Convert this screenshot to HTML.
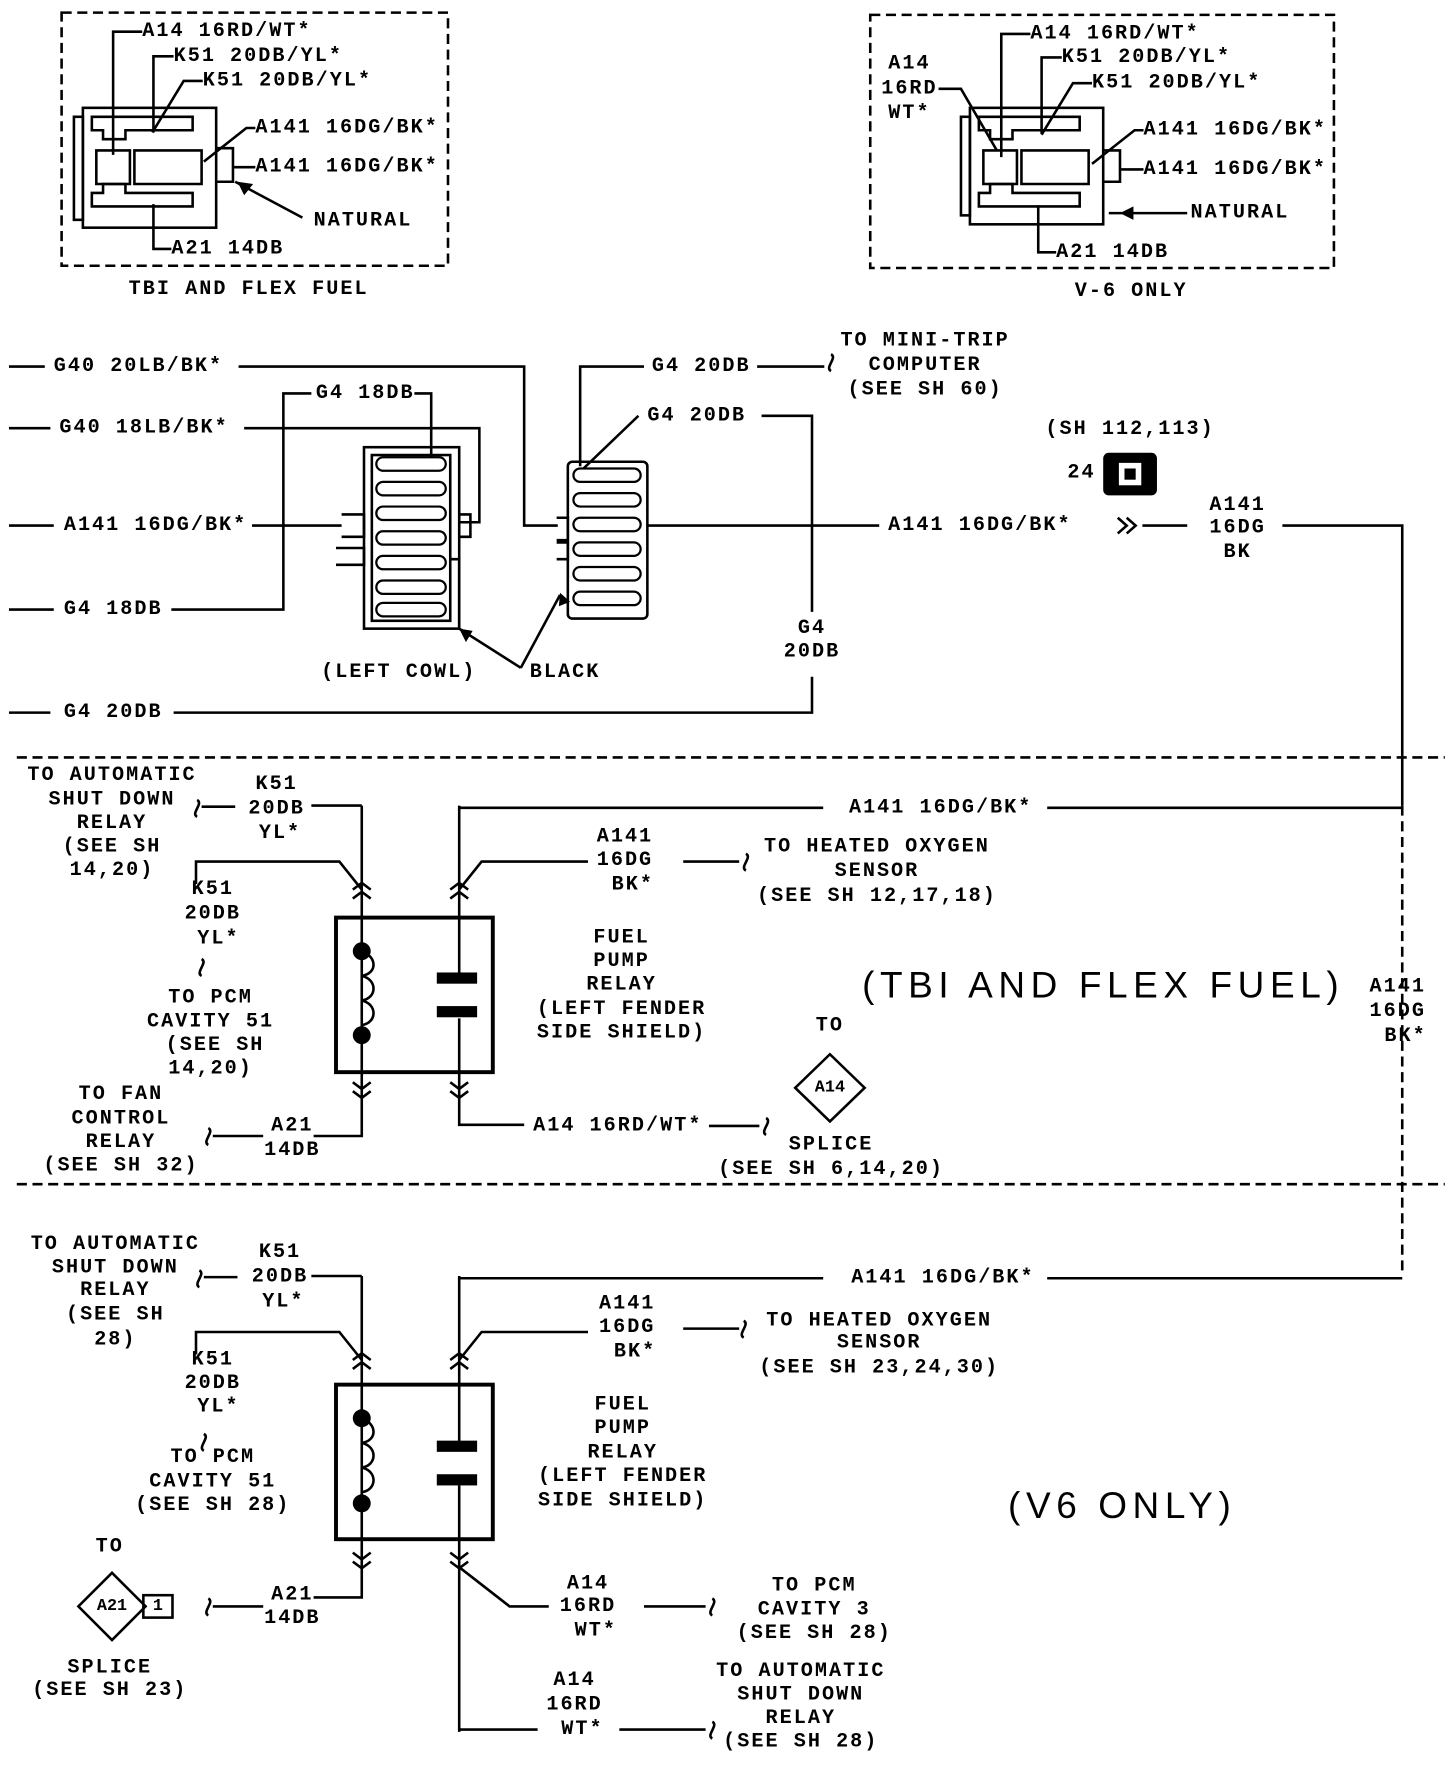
<!DOCTYPE html>
<html><head><meta charset="utf-8"><style>
html,body{margin:0;padding:0;background:#fff}
svg{display:block}
text{font-family:"Liberation Mono","DejaVu Sans Mono",monospace;font-size:18px;font-weight:bold;letter-spacing:1.8px;fill:#000;dominant-baseline:central}
.c{text-anchor:middle}
.big{font-family:"Liberation Sans",sans-serif;font-weight:normal;font-size:33px;letter-spacing:5px}
</style></head><body>
<svg width="1456" height="1768" viewBox="0 0 1300 1578" xmlns="http://www.w3.org/2000/svg">
<g transform="translate(0,4)">
<g fill="none" stroke="#000" stroke-width="2.3">
<rect x="55" y="7" width="345" height="226" stroke-dasharray="9,5"/>
<rect x="74" y="92" width="119" height="107"/>
<rect x="66" y="100" width="8" height="92"/>
<path d="M82 100h90v12h-60v8h-20v-8h-10z M82 180h90v-12h-60v-8h-20v8h-10z"/>
<path d="M86 130h30v30h-30z M120 130h60v30h-60z"/>
<path d="M193 128h15v30h-15"/>
<path d="M127 24h-26v110 M155 46h-18v68 M181 68h-17l-28 46 M228 110h-8l-38 30 M228 145h-20 M270 190l-60-32 M153 218h-16v-40"/>
<rect x="777" y="9" width="414" height="226" stroke-dasharray="9,5"/>
<rect x="866" y="92" width="119" height="104"/>
<rect x="858" y="100" width="8" height="88"/>
<path d="M874 100h90v12h-60v8h-20v-8h-10z M874 180h90v-12h-60v-8h-20v8h-10z"/>
<path d="M878 130h30v30h-30z M912 130h60v30h-60z"/>
<path d="M985 130h15v28h-15"/>
<path d="M920 26h-26v110 M948 47h-18v68 M975 70h-17l-28 46 M1021 112h-8l-38 30 M1021 147h-20 M1060 186h-70 M943 221h-16v-42 M838 75h20l32 55"/>
<path d="M8 323h32 M213 323h255v142h30 M8 378h37 M218 378h210v84h-18 M8 465h40 M225 465h80 M8 540h40 M153 540h100v-193h25 M370 347h15v63 M8 632h37 M155 632h570v-32 M725 542v-175h-45 M570 367l-50 48 M518 412v-89h57 M676 323h60 M578 465h207 M1020 465h40 M1145 465h107v250"/>
<path d="M1252 715v420" stroke-dasharray="9,5"/>
<path d="M998 458l8 7-8 7 M1006 458l8 7-8 7"/>
<rect x="325" y="395" width="85" height="162"/>
<rect x="332" y="402" width="70" height="148"/>
<path d="M305 455h20v20h-20 M300 485h25v15h-25 M410 455h10v20h-10 M402 495h8v62"/>
<rect x="507" y="408" width="71" height="140" rx="4"/>
<path d="M497 458h10v20h-10 M497 480h10v15h-10"/>
<g stroke-width="1.8">
<path d="M342 410h50 M342 432h50 M342 454h50 M342 476h50 M342 498h50 M342 520h50 M342 540h50" stroke-width="14" stroke="#000" stroke-linecap="round"/>
<path d="M342 410h50 M342 432h50 M342 454h50 M342 476h50 M342 498h50 M342 520h50 M342 540h50" stroke-width="10" stroke="#fff" stroke-linecap="round"/>
<path d="M518 420h48 M518 442h48 M518 464h48 M518 486h48 M518 508h48 M518 530h48" stroke-width="14" stroke="#000" stroke-linecap="round"/>
<path d="M518 420h48 M518 442h48 M518 464h48 M518 486h48 M518 508h48 M518 530h48" stroke-width="10" stroke="#fff" stroke-linecap="round"/>
</g>
<path d="M465 592l-55-35 M465 592l35-65"/>
<path d="M15 672h1275 M15 1053h1275" stroke-dasharray="9,5"/>
<rect x="300" y="815" width="140" height="138" stroke-width="3.5"/>
<path d="M323 715v240 M410 715v150 M410 905v50 M410 717h325 M935 717h317 M278 715h45 M180 716h30 M323 790l-20-25h-128v20 M410 790l20-25h95 M610 765h50 M323 953v57h-43 M190 1010h45 M410 953v47h58 M633 1001h45"/>
<path d="M323 845c14 5 14 20 0 22c14 3 14 20 0 22c14 3 14 20 0 22"/>
<rect x="300" y="1232" width="140" height="138" stroke-width="3.5"/>
<path d="M323 1135v240 M410 1135v150 M410 1322v220 M410 1137h325 M935 1137h317 M278 1135h45 M182 1136h30 M323 1210l-20-25h-128v20 M410 1210l20-25h95 M610 1182h50 M323 1372v50h-43 M190 1430h45 M410 1395l45 35h35 M575 1430h55 M410 1540h70 M553 1540h77"/>
<path d="M323 1262c14 5 14 20 0 22c14 3 14 20 0 22c14 3 14 20 0 22"/>
<path d="M742 312c6 3-6 12 0 15 M176 710c6 3-6 12 0 15 M666 758c6 3-6 12 0 15 M180 852c6 3-6 12 0 15 M186 1003c6 3-6 12 0 15 M684 994c6 3-6 12 0 15 M178 1130c6 3-6 12 0 15 M664 1175c6 3-6 12 0 15 M182 1276c6 3-6 12 0 15 M186 1423c6 3-6 12 0 15 M636 1423c6 3-6 12 0 15 M636 1533c6 3-6 12 0 15"/>
<path d="M315 790l8-6 8 6 M315 798l8-6 8 6 M402 790l8-6 8 6 M402 798l8-6 8 6 M315 962l8 6 8-6 M315 970l8 6 8-6 M402 962l8 6 8-6 M402 970l8 6 8-6"/>
<path d="M315 1210l8-6 8 6 M315 1218l8-6 8 6 M402 1210l8-6 8 6 M402 1218l8-6 8 6 M315 1382l8 6 8-6 M315 1390l8 6 8-6 M402 1382l8 6 8-6 M402 1390l8 6 8-6"/>
<path d="M741 937l31 30-31 30-31-30z"/>
<path d="M100 1400l30 30-30 30-30-30z"/>
<rect x="128" y="1420" width="26" height="20"/>
</g>
<g fill="#000">
<rect x="390" y="864" width="36" height="10"/><rect x="390" y="894" width="36" height="10"/>
<circle cx="323" cy="845" r="8"/><circle cx="323" cy="920" r="8"/>
<rect x="390" y="1282" width="36" height="10"/><rect x="390" y="1312" width="36" height="10"/>
<circle cx="323" cy="1262" r="8"/><circle cx="323" cy="1338" r="8"/>
<rect x="985" y="400" width="48" height="38" rx="5"/>
<path d="M212 158l14 2-8 10z M1000 186l12-6v12z M410 557l12 2-6 10z M500 525l-1 12 10-4z"/>
</g>
<rect x="999" y="409" width="20" height="20" fill="#fff"/>
<rect x="1004" y="414" width="10" height="10" fill="#000"/>
<text x="127" y="24">A14 16RD/WT*</text>
<text x="155" y="46">K51 20DB/YL*</text>
<text x="181" y="68">K51 20DB/YL*</text>
<text x="228" y="110">A141 16DG/BK*</text>
<text x="228" y="145">A141 16DG/BK*</text>
<text x="280" y="193">NATURAL</text>
<text x="153" y="218">A21 14DB</text>
<text class="c" x="222" y="254">TBI AND FLEX FUEL</text>
<text x="920" y="26">A14 16RD/WT*</text>
<text x="948" y="47">K51 20DB/YL*</text>
<text x="975" y="70">K51 20DB/YL*</text>
<text x="1021" y="112">A141 16DG/BK*</text>
<text x="1021" y="147">A141 16DG/BK*</text>
<text x="1063" y="186">NATURAL</text>
<text x="943" y="221">A21 14DB</text>
<text class="c" x="812" y="53">A14</text><text class="c" x="812" y="75">16RD</text><text class="c" x="812" y="97">WT*</text>
<text class="c" x="1010" y="256">V-6 ONLY</text>
<text x="48" y="323">G40 20LB/BK*</text>
<text x="53" y="378">G40 18LB/BK*</text>
<text x="57" y="465">A141 16DG/BK*</text>
<text x="57" y="540">G4 18DB</text>
<text x="282" y="347">G4 18DB</text>
<text x="57" y="632">G4 20DB</text>
<text class="c" x="725" y="557">G4</text><text class="c" x="725" y="578">20DB</text>
<text x="578" y="367">G4 20DB</text>
<text x="582" y="323">G4 20DB</text>
<text class="c" x="826" y="300">TO MINI-TRIP</text><text class="c" x="826" y="322">COMPUTER</text><text class="c" x="826" y="344">(SEE SH 60)</text>
<text x="793" y="465">A141 16DG/BK*</text>
<text class="c" x="1105" y="447">A141</text><text class="c" x="1105" y="467">16DG</text><text class="c" x="1105" y="489">BK</text>
<text class="c" x="1009" y="379">(SH 112,113)</text>
<text x="953" y="418">24</text>
<text class="c" x="356" y="596">(LEFT COWL)</text>
<text x="473" y="596">BLACK</text>
<text class="c" x="100" y="688">TO AUTOMATIC</text><text class="c" x="100" y="710">SHUT DOWN</text><text class="c" x="100" y="731">RELAY</text><text class="c" x="100" y="752">(SEE SH</text><text class="c" x="100" y="773">14,20)</text>
<text class="c" x="247" y="696">K51</text><text class="c" x="247" y="718">20DB</text><text class="c" x="250" y="740">YL*</text>
<text x="758" y="717">A141 16DG/BK*</text>
<text class="c" x="190" y="790">K51</text><text class="c" x="190" y="812">20DB</text><text class="c" x="195" y="834">YL*</text>
<text class="c" x="188" y="887">TO PCM</text><text class="c" x="188" y="908">CAVITY 51</text><text class="c" x="192" y="929">(SEE SH</text><text class="c" x="188" y="950">14,20)</text>
<text class="c" x="558" y="743">A141</text><text class="c" x="558" y="764">16DG</text><text class="c" x="565" y="786">BK*</text>
<text class="c" x="783" y="752">TO HEATED OXYGEN</text><text class="c" x="783" y="774">SENSOR</text><text class="c" x="783" y="796">(SEE SH 12,17,18)</text>
<text class="c" x="555" y="833">FUEL</text><text class="c" x="555" y="854">PUMP</text><text class="c" x="555" y="875">RELAY</text><text class="c" x="555" y="897">(LEFT FENDER</text><text class="c" x="555" y="918">SIDE SHIELD)</text>
<text class="c big" x="985" y="875">(TBI AND FLEX FUEL)</text>
<text class="c" x="1248" y="877">A141</text><text class="c" x="1248" y="899">16DG</text><text class="c" x="1255" y="921">BK*</text>
<text class="c" x="741" y="912">TO</text>
<text class="c" x="741" y="967" style="font-size:15px;letter-spacing:0">A14</text>
<text class="c" x="742" y="1018">SPLICE</text><text class="c" x="742" y="1040">(SEE SH 6,14,20)</text>
<text x="476" y="1001">A14 16RD/WT*</text>
<text class="c" x="261" y="1001">A21</text><text class="c" x="261" y="1023">14DB</text>
<text class="c" x="108" y="973">TO FAN</text><text class="c" x="108" y="995">CONTROL</text><text class="c" x="108" y="1016">RELAY</text><text class="c" x="108" y="1037">(SEE SH 32)</text>
<text class="c" x="103" y="1107">TO AUTOMATIC</text><text class="c" x="103" y="1128">SHUT DOWN</text><text class="c" x="103" y="1148">RELAY</text><text class="c" x="103" y="1170">(SEE SH</text><text class="c" x="103" y="1192">28)</text>
<text class="c" x="250" y="1114">K51</text><text class="c" x="250" y="1136">20DB</text><text class="c" x="253" y="1158">YL*</text>
<text x="760" y="1137">A141 16DG/BK*</text>
<text class="c" x="190" y="1210">K51</text><text class="c" x="190" y="1231">20DB</text><text class="c" x="195" y="1252">YL*</text>
<text class="c" x="190" y="1297">TO PCM</text><text class="c" x="190" y="1319">CAVITY 51</text><text class="c" x="190" y="1340">(SEE SH 28)</text>
<text class="c" x="560" y="1160">A141</text><text class="c" x="560" y="1181">16DG</text><text class="c" x="567" y="1203">BK*</text>
<text class="c" x="785" y="1175">TO HEATED OXYGEN</text><text class="c" x="785" y="1195">SENSOR</text><text class="c" x="785" y="1217">(SEE SH 23,24,30)</text>
<text class="c" x="556" y="1250">FUEL</text><text class="c" x="556" y="1271">PUMP</text><text class="c" x="556" y="1293">RELAY</text><text class="c" x="556" y="1314">(LEFT FENDER</text><text class="c" x="556" y="1336">SIDE SHIELD)</text>
<text class="c big" x="1002" y="1340">(V6 ONLY)</text>
<text class="c" x="98" y="1377">TO</text>
<text class="c" x="100" y="1430" style="font-size:15px;letter-spacing:0">A21</text>
<text class="c" x="141" y="1430" style="font-size:15px;letter-spacing:0">1</text>
<text class="c" x="98" y="1485">SPLICE</text><text class="c" x="98" y="1505">(SEE SH 23)</text>
<text class="c" x="261" y="1420">A21</text><text class="c" x="261" y="1441">14DB</text>
<text class="c" x="525" y="1410">A14</text><text class="c" x="525" y="1430">16RD</text><text class="c" x="532" y="1452">WT*</text>
<text class="c" x="727" y="1412">TO PCM</text><text class="c" x="727" y="1433">CAVITY 3</text><text class="c" x="727" y="1454">(SEE SH 28)</text>
<text class="c" x="513" y="1496">A14</text><text class="c" x="513" y="1518">16RD</text><text class="c" x="520" y="1540">WT*</text>
<text class="c" x="715" y="1488">TO AUTOMATIC</text><text class="c" x="715" y="1509">SHUT DOWN</text><text class="c" x="715" y="1530">RELAY</text><text class="c" x="715" y="1551">(SEE SH 28)</text>
</g>
</svg>
</body></html>
